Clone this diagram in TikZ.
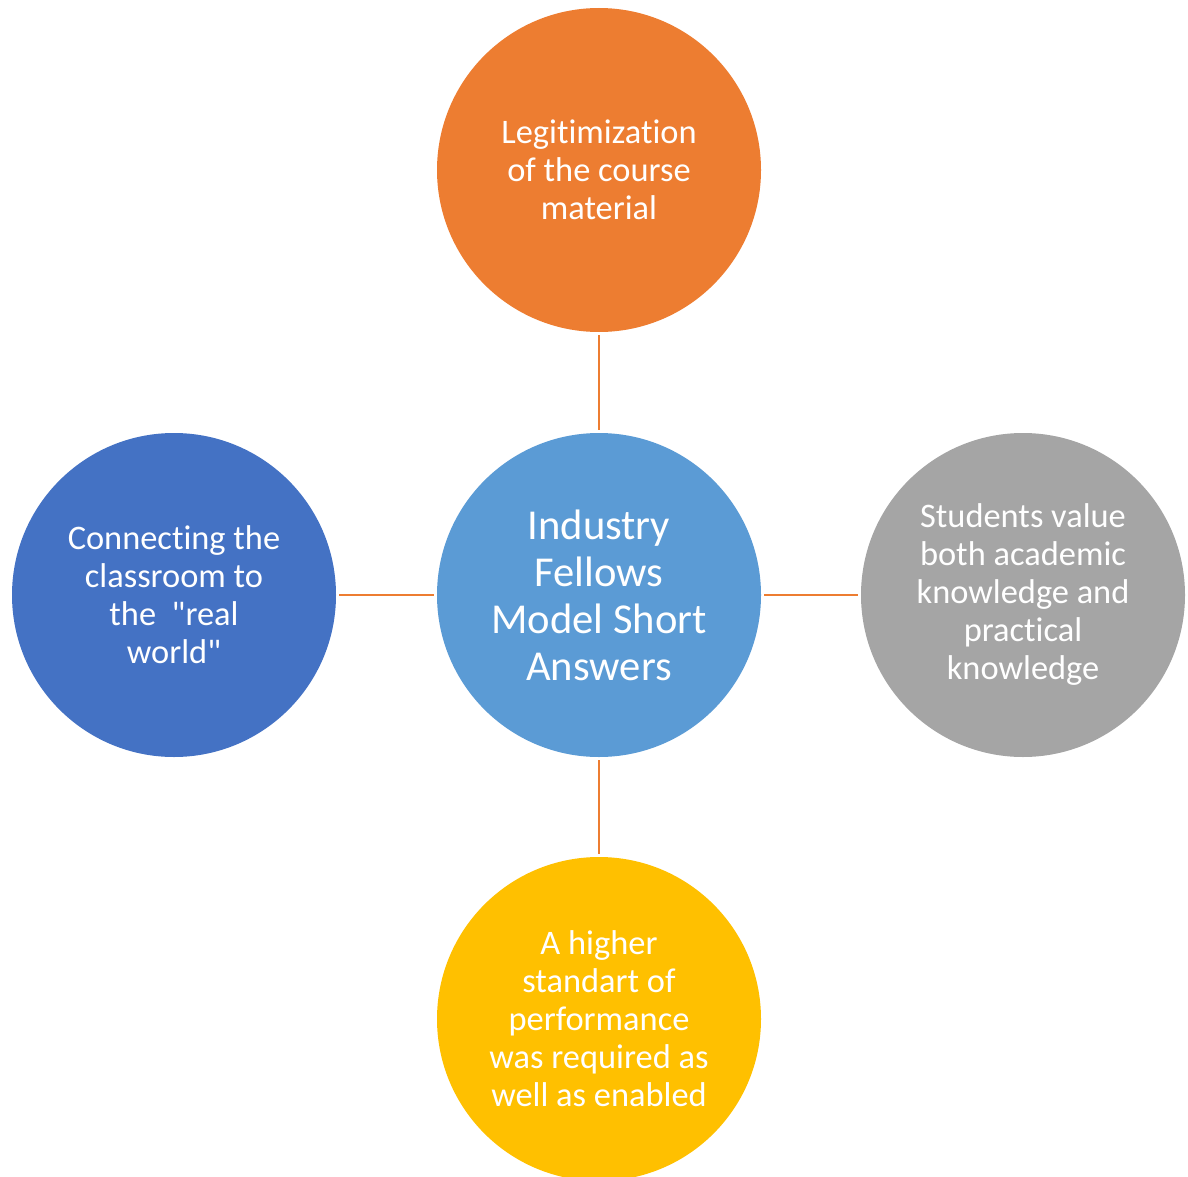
\documentclass[tikz,border=0pt]{standalone}
\usepackage{fontspec}
\setmainfont{Carlito}[Ligatures={TeXOff,NoCommon}]
\definecolor{bubOrange}{HTML}{ED7D31}
\definecolor{bubBlue}{HTML}{4472C4}
\definecolor{bubSky}{HTML}{5B9BD5}
\definecolor{bubGray}{HTML}{A5A5A5}
\definecolor{bubGold}{HTML}{FFC000}
\tikzset{
  bubble/.style={circle, minimum size=162pt, inner sep=0pt, align=center,
    text=white, font=\fontsize{17.2}{19}\selectfont},
  link/.style={draw=bubOrange, line width=1.1pt, shorten <=1.5pt, shorten >=1.5pt}
}

\begin{document}
\begin{tikzpicture}[x=0.5pt, y=-0.5pt]
  \useasboundingbox (0,0) rectangle (1188,1177);
  % hub in the middle
  \node[bubble, fill=bubSky, font=\fontsize{21.3}{23.5}\selectfont] (hub) at (599,595)
    {Industry\\Fellows\\Model Short\\Answers};
  % four satellites, each tied back to the hub
  \foreach \nm/\px/\py/\col/\txt in {
      legit/599/170/bubOrange/{Legitimization\\of the course\\material},
      realw/174/595/bubBlue/{Connecting the\\classroom to\\the \ "real\\world"},
      value/1023/595/bubGray/{Students value\\both academic\\knowledge and\\practical\\knowledge},
      stand/599/1019/bubGold/{A higher\\standart of\\performance\\was required as\\well as enabled}}
    {\node[bubble, fill=\col] (\nm) at (\px,\py) {\txt};
     \draw[link] (\nm) -- (hub);}
\end{tikzpicture}
\end{document}
